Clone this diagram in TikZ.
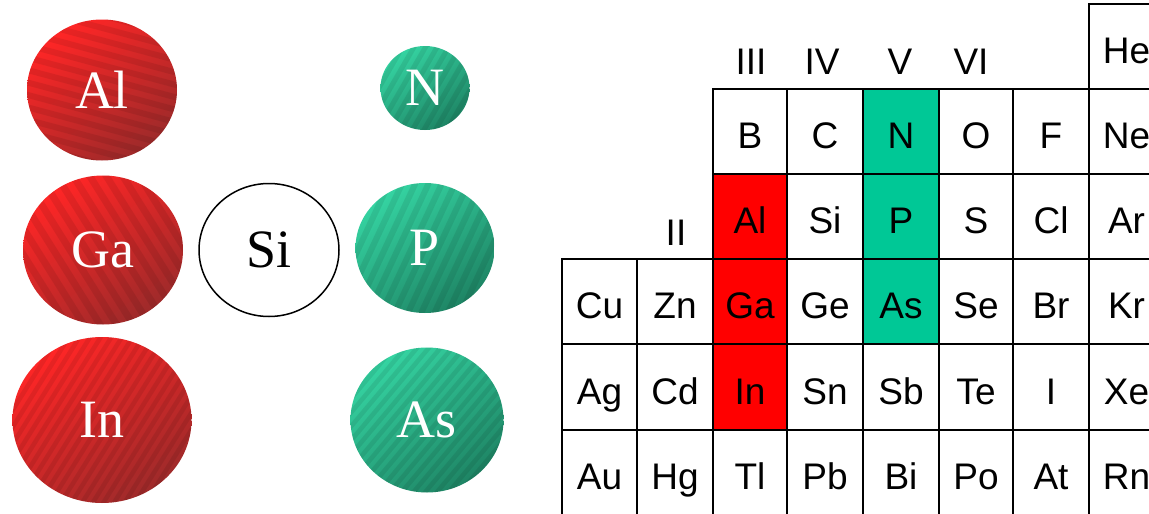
\documentclass[tikz,border=0pt]{standalone}
\usepackage{fontspec}
\setmainfont{Liberation Serif}
\newfontfamily\tabfont{Liberation Sans}
\usetikzlibrary{shapes.geometric}

\definecolor{redA}{HTML}{FF2626}
\definecolor{redB}{HTML}{9E2A2A}
\definecolor{grnA}{HTML}{35D4A2}
\definecolor{grnB}{HTML}{1E8464}
\definecolor{cellred}{HTML}{FF0000}
\definecolor{cellgrn}{HTML}{00C896}

\tikzset{
  atom/.style={ellipse, inner sep=0pt, text=white,
    font=\fontsize{54}{54}\selectfont},
  siatom/.style={atom, draw=black, line width=1.5pt, fill=white, text=black},
  stripe/.style={black, opacity=0.08},
  cellbox/.style={draw=black, line width=2pt, inner sep=0pt, text=black,
    text height=34pt, text depth=0pt, font=\tabfont\fontsize{37}{37}\selectfont},
  group/.style={anchor=base, inner sep=0pt, font=\tabfont\fontsize{37}{37}\selectfont}
}

% shaded, striped ball: name, x, y, width, height, colour family (red/grn),
% stripe angle, stripe spacing, symbol
\newcommand\ball[9]{%
  \begin{scope}
    \clip (#2,#3) ellipse [x radius=#4/2, y radius=#5/2];
    \shade[top color=#6A, bottom color=#6B, shading angle=35]
      ({#2-#4/2},{#3-#5/2}) rectangle ({#2+#4/2},{#3+#5/2});
    \begin{scope}[shift={(#2,#3)}, rotate=#7]
      \foreach \k in {-24,...,24}
        \draw[stripe, line width=#8/2] (-160,\k*#8) -- (160,\k*#8);
    \end{scope}
  \end{scope}
  \node[atom, minimum width=#4, minimum height=#5] (#1) at (#2,#3) {#9};
}

\begin{document}
\begin{tikzpicture}[x=1pt, y=-1pt]
\useasboundingbox (0,0) rectangle (1149,514);
\clip (0,0) rectangle (1149,514);

% group III and group V atoms, with silicon between them
\ball{atom-Al}{102}{90}{150}{141}{red}{-15}{12}{Al}
\ball{atom-Ga}{103}{250}{160}{149}{red}{-58}{14}{Ga}
\ball{atom-In}{102}{420}{179}{166}{red}{58}{9}{In}
\ball{atom-N}{425}{88}{89}{84}{grn}{60}{10}{N}
\ball{atom-P}{425}{248}{139}{130}{grn}{65}{12}{P}
\ball{atom-As}{427}{420}{153}{145}{grn}{50}{9}{As}
\node[siatom, minimum width=140, minimum height=133] (atom-Si) at (269,250) {Si};

% part of the periodic table
\def\colx{{562,637,713,787,863,939,1013,1089,1164}}
\def\rowy{{4,89,174,259,344,430,515}}
\foreach \s/\c/\r/\f in {
  He/7/0/white,
  B/2/1/white, C/3/1/white, N/4/1/cellgrn, O/5/1/white, F/6/1/white, Ne/7/1/white,
  Al/2/2/cellred, Si/3/2/white, P/4/2/cellgrn, S/5/2/white, Cl/6/2/white, Ar/7/2/white,
  Cu/0/3/white, Zn/1/3/white, Ga/2/3/cellred, Ge/3/3/white, As/4/3/cellgrn, Se/5/3/white, Br/6/3/white, Kr/7/3/white,
  Ag/0/4/white, Cd/1/4/white, In/2/4/cellred, Sn/3/4/white, Sb/4/4/white, Te/5/4/white, I/6/4/white, Xe/7/4/white,
  Au/0/5/white, Hg/1/5/white, Tl/2/5/white, Pb/3/5/white, Bi/4/5/white, Po/5/5/white, At/6/5/white, Rn/7/5/white}{
  \pgfmathsetmacro\xa{\colx[\c]}
  \pgfmathsetmacro\xb{\colx[\c+1]}
  \pgfmathsetmacro\ya{\rowy[\r]}
  \pgfmathsetmacro\yb{\rowy[\r+1]}
  \node[cellbox, fill=\f, minimum width=\xb-\xa, minimum height=\yb-\ya]
    (cell-\s) at ({(\xa+\xb)/2},{(\ya+\yb)/2}) {\s};
}

% group numbers
\node[group] (grp-II) at (676,245) {II};
\node[group] (grp-III) at (751,74) {III};
\node[group] (grp-IV) at (822,74) {IV};
\node[group] (grp-V) at (900,74) {V};
\node[group] (grp-VI) at (971,74) {VI};
\end{tikzpicture}
\end{document}
